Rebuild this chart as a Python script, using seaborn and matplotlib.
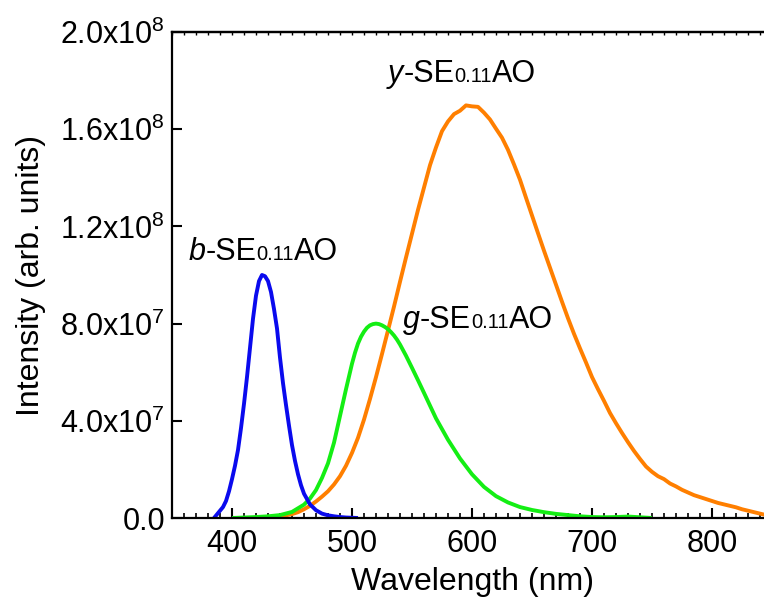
import matplotlib
matplotlib.use("Agg")
import matplotlib.pyplot as plt
import matplotlib.transforms as mtransforms
from matplotlib.ticker import MultipleLocator, FixedLocator, FixedFormatter
import seaborn as sns
import pandas as pd

# ---------------- data ----------------
blue_wl = [385, 387.5, 390, 392.5, 395, 397.5, 400, 402.5, 405, 407.5, 410, 412.5,
           415, 417.5, 420, 422.5, 425, 427.5, 430, 432.5, 435, 437.5, 440, 442.5,
           445, 447.5, 450, 452.5, 455, 457.5, 460, 465, 470, 475, 480, 485, 490,
           495, 500, 505]
blue_int = [0.0, 0.015, 0.03, 0.045, 0.07, 0.11, 0.16, 0.215, 0.28, 0.37, 0.47,
            0.58, 0.70, 0.82, 0.915, 0.975, 1.0, 0.995, 0.975, 0.93, 0.86, 0.78,
            0.66, 0.555, 0.465, 0.38, 0.30, 0.235, 0.18, 0.135, 0.10, 0.056, 0.032,
            0.018, 0.011, 0.007, 0.004, 0.002, 0.001, 0.0]

green_wl = [400, 410, 420, 430, 440, 450, 460, 465, 470, 475, 480, 485, 490, 495,
            500, 502.5, 505, 507.5, 510, 512.5, 515, 517.5, 520, 522.5, 525, 527.5,
            530, 532.5, 535, 537.5, 540, 545, 550, 555, 560, 570, 580, 590, 600,
            610, 620, 630, 640, 650, 660, 670, 680, 690, 700, 710, 720, 730, 740, 750]
green_int = [0.0, 0.002, 0.004, 0.007, 0.012, 0.025, 0.055, 0.08, 0.115, 0.165,
             0.225, 0.31, 0.42, 0.53, 0.635, 0.68, 0.718, 0.746, 0.767, 0.783,
             0.793, 0.798, 0.80, 0.798, 0.793, 0.786, 0.777, 0.765, 0.751, 0.734,
             0.714, 0.668, 0.618, 0.567, 0.515, 0.41, 0.322, 0.245, 0.18, 0.128,
             0.09, 0.064, 0.045, 0.033, 0.024, 0.017, 0.012, 0.007, 0.004, 0.003,
             0.004, 0.006, 0.003, 0.0]

orange_wl = list(range(420, 851, 5))
orange_int = [0.000, 0.002, 0.003, 0.005, 0.008, 0.011, 0.016, 0.024, 0.036, 0.050,
              0.068, 0.088, 0.110, 0.138, 0.172, 0.215, 0.268, 0.330, 0.405, 0.490,
              0.580, 0.675, 0.772, 0.870, 0.972, 1.072, 1.170, 1.268, 1.360, 1.452,
              1.525, 1.592, 1.632, 1.662, 1.676, 1.698, 1.694, 1.692, 1.668, 1.640,
              1.602, 1.565, 1.515, 1.455, 1.392, 1.318, 1.245, 1.172, 1.100, 1.030,
              0.960, 0.890, 0.822, 0.758, 0.698, 0.640, 0.580, 0.530, 0.482, 0.432,
              0.390, 0.350, 0.312, 0.276, 0.243, 0.212, 0.190, 0.172, 0.160, 0.142,
              0.130, 0.116, 0.105, 0.094, 0.086, 0.078, 0.070, 0.062, 0.056, 0.050,
              0.044, 0.036, 0.030, 0.024, 0.018, 0.012, 0.008]
SCALE = 1e8

ytick_vals = [0, 4e7, 8e7, 1.2e8, 1.6e8, 2.0e8]
ytick_labels = ["0.0", "4.0x10$^{7}$", "8.0x10$^{7}$", "1.2x10$^{8}$",
                "1.6x10$^{8}$", "2.0x10$^{8}$"]

# ---------------- style ----------------
sns.set_theme(style="ticks")
plt.rcParams["font.family"] = ["Liberation Sans", "DejaVu Sans"]
plt.rcParams["mathtext.fontset"] = "custom"
plt.rcParams["mathtext.rm"] = "Liberation Sans"
plt.rcParams["mathtext.it"] = "Liberation Sans:italic"
plt.rcParams["mathtext.default"] = "rm"
for k in ["text.color", "axes.labelcolor", "xtick.color", "ytick.color", "axes.edgecolor"]:
    plt.rcParams[k] = "black"

FS = 22
LFS = 23
fig = plt.figure(figsize=(7.64, 6.03), dpi=100)
ax = fig.add_axes([172 / 764, 1 - 518 / 603, 600 / 764, 486 / 603])

df_b = pd.DataFrame({"wl": blue_wl, "I": [v * SCALE for v in blue_int]})
df_g = pd.DataFrame({"wl": green_wl, "I": [v * SCALE for v in green_int]})
df_o = pd.DataFrame({"wl": orange_wl, "I": [v * SCALE for v in orange_int]})

LW = 2.8
kw = dict(ax=ax, lw=LW, estimator=None, solid_joinstyle="round", solid_capstyle="butt")
sns.lineplot(data=df_o, x="wl", y="I", color="#ff7f00", **kw)
sns.lineplot(data=df_g, x="wl", y="I", color="#14ee14", **kw)
sns.lineplot(data=df_b, x="wl", y="I", color="#0a0aee", **kw)

ax.set_xlim(350, 850)
ax.set_ylim(0, 2.0e8)

ax.xaxis.set_major_locator(MultipleLocator(100))
ax.xaxis.set_minor_locator(MultipleLocator(10))
ax.yaxis.set_major_locator(FixedLocator(ytick_vals))
ax.yaxis.set_major_formatter(FixedFormatter(ytick_labels))

ax.tick_params(axis="x", which="major", direction="in", length=7, width=1.5,
               labelsize=FS, pad=8)
ax.tick_params(axis="x", which="minor", direction="in", length=3.5, width=1.2)
ax.tick_params(axis="y", which="major", direction="in", length=7, width=1.5,
               labelsize=FS, pad=5)
ax.tick_params(axis="y", which="minor", left=False)

for side in ["left", "top", "bottom"]:
    ax.spines[side].set_visible(True)
    ax.spines[side].set_linewidth(1.6)
ax.spines["right"].set_visible(False)

sec = ax.secondary_xaxis("top")
sec.xaxis.set_major_locator(MultipleLocator(10))
sec.tick_params(axis="x", which="major", direction="in", length=2.5, width=1.0,
                labeltop=False)
sec.spines["top"].set_linewidth(1.6)

ax.set_xlabel("Wavelength (nm)", fontsize=LFS, labelpad=6)
ax.set_ylabel("Intensity (arb. units)", fontsize=LFS)
ax.yaxis.set_label_coords(-0.21, 0.5)
ax.grid(False)

# ---------------- annotations ----------------
renderer = fig.canvas.get_renderer()


def rich_text(x, y, parts):
    t = ax.transData
    for s, size, style in parts:
        txt = ax.text(x, y, s, transform=t, fontsize=size, fontstyle=style,
                      ha="left", va="baseline", color="black")
        txt.draw(renderer)
        ex = txt.get_window_extent(renderer)
        t = mtransforms.offset_copy(txt.get_transform(), fig=fig, x=ex.width, units="dots")


SUB = 14.5
rich_text(363.5, 1.06e8, [("b", FS, "italic"), ("-SE", FS, "normal"),
                          ("0.11", SUB, "normal"), ("AO", FS, "normal")])
rich_text(542.5, 0.78e8, [("g", FS, "italic"), ("-SE", FS, "normal"),
                          ("0.11", SUB, "normal"), ("AO", FS, "normal")])
rich_text(530.0, 1.795e8, [("y", FS, "italic"), ("-SE", FS, "normal"),
                           ("0.11", SUB, "normal"), ("AO", FS, "normal")])

fig.savefig("out.png", dpi=100)
